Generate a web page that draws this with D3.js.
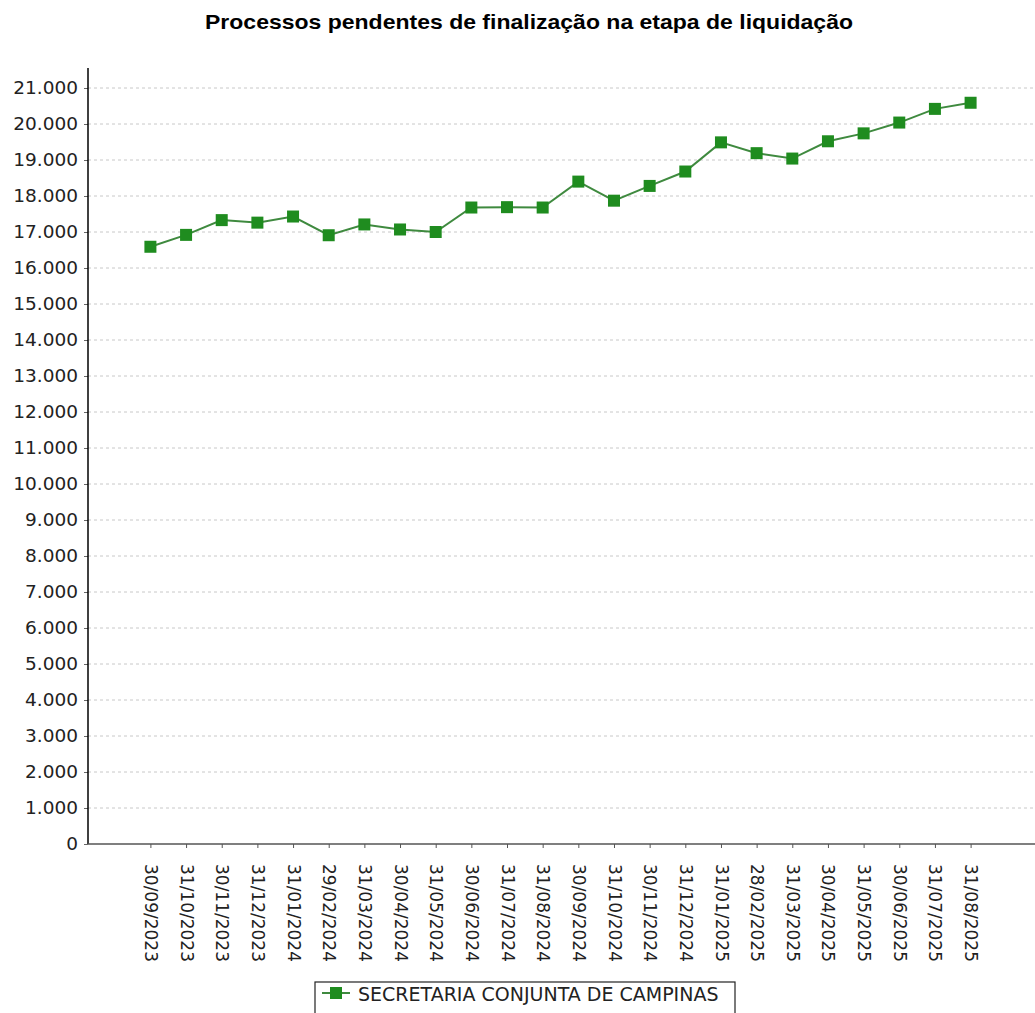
<!DOCTYPE html>
<html>
<head>
<meta charset="utf-8">
<script src="https://cdn.jsdelivr.net/npm/d3@7"></script>
<style>
  body { margin: 0; background: #fff; }
  svg { display: block; }
</style>
</head>
<body>
<div id="chart"></div>
<script>
const dates = ["30/09/2023","31/10/2023","30/11/2023","31/12/2023","31/01/2024","29/02/2024",
  "31/03/2024","30/04/2024","31/05/2024","30/06/2024","31/07/2024","31/08/2024",
  "30/09/2024","31/10/2024","30/11/2024","31/12/2024","31/01/2025","28/02/2025",
  "31/03/2025","30/04/2025","31/05/2025","30/06/2025","31/07/2025","31/08/2025"];
const pendentes = [16590,16920,17330,17260,17430,16910,17210,17070,17000,17680,17690,17680,
  18400,17870,18280,18680,19490,19190,19040,19520,19740,20040,20420,20590];
const yTicks = d3.range(0, 21001, 1000);
const seriesName = "SECRETARIA CONJUNTA DE CAMPINAS";
const title = "Processos pendentes de finalização na etapa de liquidação";

const width = 1035, height = 1013;
const margin = {top: 68, right: 2, bottom: 169, left: 88};
const fmt = d3.formatLocale({decimal: ",", thousands: ".", grouping: [3], currency: ["R$", ""]}).format(",d");

const svg = d3.select("#chart").append("svg")
  .attr("width", width)
  .attr("height", height);

svg.append("text")
  .attr("x", 529).attr("y", 29)
  .attr("text-anchor", "middle")
  .style("font-family", "Liberation Sans, Arial, sans-serif")
  .style("font-weight", "bold")
  .style("font-size", "21px")
  .attr("textLength", 648)
  .attr("lengthAdjust", "spacingAndGlyphs")
  .attr("fill", "#000")
  .text(title);

const x = d3.scalePoint().domain(dates)
  .range([margin.left, width - margin.right]).padding(1.75);
const y = d3.scaleLinear().domain([0, 21000])
  .range([height - margin.bottom, 88]);
const y0 = y(0);

// gridlines
svg.append("g").selectAll("line").data(yTicks.slice(1)).enter().append("line")
  .attr("x1", margin.left).attr("x2", width)
  .attr("y1", d => y(d)).attr("y2", d => y(d))
  .attr("stroke", "#c8c8c8").attr("stroke-width", 1)
  .attr("stroke-dasharray", "3,3");

// y axis
const yAxis = svg.append("g")
  .attr("transform", `translate(${margin.left},0)`)
  .call(d3.axisLeft(y).tickValues(yTicks).tickFormat(fmt).tickSize(4).tickPadding(6));
yAxis.select(".domain").remove();
yAxis.append("line").attr("x1", 0).attr("x2", 0).attr("y1", margin.top).attr("y2", y0)
  .attr("stroke", "#000").attr("stroke-width", 1.5);
yAxis.selectAll("text")
  .style("font-family", "DejaVu Sans, sans-serif").style("font-size", "18.5px").attr("fill", "#222");
yAxis.selectAll(".tick line").attr("stroke", "#666");

// x axis
const xAxis = svg.append("g")
  .attr("transform", `translate(0,${y0})`)
  .call(d3.axisBottom(x).tickSize(4).tickPadding(0));
xAxis.select(".domain").remove();
xAxis.append("line").attr("x1", margin.left).attr("x2", width).attr("y1", 0).attr("y2", 0)
  .attr("stroke", "#555").attr("stroke-width", 1.5);
xAxis.selectAll(".tick line").attr("stroke", "#555");
xAxis.selectAll("text")
  .attr("transform", "rotate(90)")
  .attr("x", 20).attr("y", 0).attr("dy", "0.35em")
  .attr("text-anchor", "start")
  .style("font-family", "DejaVu Sans, sans-serif").style("font-size", "17px").attr("fill", "#222");

// line and markers
const line = d3.line().x((d, i) => x(dates[i])).y(d => y(d));
svg.append("path").datum(pendentes)
  .attr("d", line)
  .attr("fill", "none").attr("stroke", "#3f8a3f").attr("stroke-width", 2);

svg.append("g").selectAll("rect").data(pendentes).enter().append("rect")
  .attr("x", (d, i) => x(dates[i]) - 6).attr("y", d => y(d) - 6)
  .attr("width", 12).attr("height", 12)
  .attr("fill", "#1f8c1f");

// legend
const lg = svg.append("g").attr("transform", "translate(315,982)");
lg.append("rect").attr("x", 0).attr("y", 0).attr("width", 420).attr("height", 40)
  .attr("fill", "#fff").attr("stroke", "#222").attr("stroke-width", 1.2);
lg.append("line").attr("x1", 7).attr("x2", 35).attr("y1", 11).attr("y2", 11)
  .attr("stroke", "#3f8a3f").attr("stroke-width", 2);
lg.append("rect").attr("x", 15).attr("y", 5).attr("width", 12).attr("height", 12).attr("fill", "#1f8c1f");
lg.append("text").attr("x", 43).attr("y", 19)
  .style("font-family", "DejaVu Sans, sans-serif").style("font-size", "19px").attr("fill", "#222")
  .text(seriesName);
</script>
</body>
</html>
